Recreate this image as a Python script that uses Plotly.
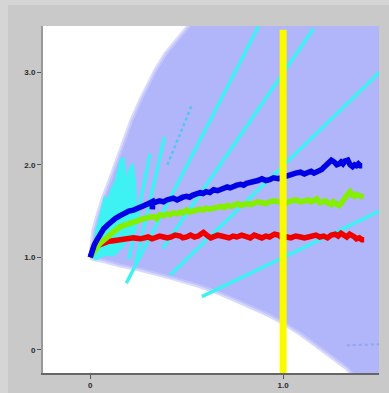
import plotly.graph_objects as go

# ---- data ----
region_upper_x = [0.0, 0.004, 0.009, 0.016, 0.03, 0.045, 0.067, 0.095, 0.125, 0.155,
                  0.18, 0.213, 0.26, 0.295, 0.337, 0.39, 0.45, 0.505, 0.56]
region_upper_y = [1.0, 1.1, 1.2, 1.29, 1.4, 1.5, 1.65, 1.8, 1.98, 2.16,
                  2.3, 2.48, 2.7, 2.85, 3.02, 3.2, 3.35, 3.49, 3.6]
region_lower_x = [0.0, 0.07, 0.155, 0.25, 0.415, 0.55, 0.67, 0.76, 0.85, 0.93, 1.0,
                  1.09, 1.175, 1.23, 1.28, 1.33, 1.37]
region_lower_y = [0.99, 0.96, 0.91, 0.87, 0.78, 0.70, 0.61, 0.53, 0.45, 0.37, 0.29,
                  0.17, 0.04, -0.04, -0.12, -0.20, -0.30]

cluster_x = [0.009, 0.026, 0.052, 0.073, 0.090, 0.107, 0.130, 0.155, 0.173, 0.187,
             0.207, 0.221, 0.233, 0.242, 0.216, 0.173, 0.121, 0.069, 0.026]
cluster_y = [0.99, 1.26, 1.47, 1.65, 1.62, 1.73, 1.82, 2.05, 2.08, 1.83,
             1.98, 2.01, 1.83, 1.47, 1.26, 1.12, 1.02, 1.02, 0.97]

# straight cyan segments: (x0, y0, x1, y1)
seg_x0 = [0.187, 0.377, 0.415, 0.579, 0.20, 0.235]
seg_y0 = [0.72, 1.097, 0.81, 0.575, 0.98, 0.93]
seg_x1 = [0.872, 1.157, 1.50, 1.50, 0.31, 0.385]
seg_y1 = [3.495, 3.47, 3.0, 1.50, 2.12, 2.30]

dot_x = [0.40, 0.53]
dot_y = [2.00, 2.66]

faint_x = [1.33, 1.50]
faint_y = [0.05, 0.06]

blue_x = [0, 0.01, 0.02, 0.035, 0.05, 0.07, 0.09, 0.11, 0.13, 0.155, 0.18, 0.20, 0.224,
          0.25, 0.28, 0.30, 0.32, 0.322, 0.325, 0.33, 0.36, 0.38, 0.397, 0.415, 0.43,
          0.45, 0.466, 0.48, 0.50, 0.515, 0.53, 0.55, 0.57, 0.585, 0.60, 0.62, 0.64,
          0.66, 0.68, 0.695, 0.71, 0.725, 0.742, 0.76, 0.78, 0.795, 0.81, 0.83, 0.85,
          0.87, 0.89, 0.91, 0.93, 0.95, 0.976, 1.0, 1.02, 1.045, 1.065, 1.09, 1.11,
          1.131, 1.145, 1.16, 1.175, 1.19, 1.20, 1.21, 1.222, 1.235, 1.25, 1.265,
          1.278, 1.29, 1.30, 1.31, 1.32, 1.335, 1.347, 1.36, 1.37, 1.38, 1.39, 1.40, 1.41]
blue_y = [1.0, 1.08, 1.13, 1.19, 1.25, 1.31, 1.35, 1.39, 1.42, 1.45, 1.48, 1.50, 1.51,
          1.54, 1.56, 1.58, 1.60, 1.52, 1.60, 1.59, 1.61, 1.60, 1.62, 1.63, 1.64,
          1.62, 1.64, 1.65, 1.66, 1.65, 1.67, 1.69, 1.70, 1.69, 1.71, 1.70, 1.73,
          1.72, 1.74, 1.75, 1.76, 1.75, 1.77, 1.78, 1.79, 1.78, 1.80, 1.81, 1.81,
          1.83, 1.85, 1.83, 1.84, 1.86, 1.85, 1.87, 1.88, 1.90, 1.91, 1.92, 1.90,
          1.92, 1.93, 1.91, 1.92, 1.93, 1.95, 1.97, 2.00, 2.02, 2.05, 2.03,
          2.00, 2.01, 2.03, 2.01, 2.04, 2.05, 2.00, 1.98, 2.00, 1.99, 2.01, 1.99, 1.99]

green_x = [0, 0.01, 0.02, 0.035, 0.05, 0.07, 0.086, 0.11, 0.13, 0.155, 0.18, 0.20, 0.224,
           0.25, 0.28, 0.30, 0.33, 0.345, 0.36, 0.38, 0.40, 0.415, 0.43, 0.45, 0.466,
           0.48, 0.50, 0.515, 0.53, 0.55, 0.57, 0.585, 0.60, 0.62, 0.64, 0.66, 0.68,
           0.695, 0.71, 0.73, 0.75, 0.765, 0.78, 0.795, 0.81, 0.83, 0.85, 0.87, 0.89,
           0.91, 0.93, 0.95, 0.976, 1.0, 1.02, 1.04, 1.065, 1.09, 1.11, 1.131, 1.145,
           1.16, 1.175, 1.19, 1.205, 1.22, 1.235, 1.25, 1.26, 1.275, 1.29, 1.30, 1.31,
           1.32, 1.335, 1.347, 1.36, 1.37, 1.38, 1.39, 1.40, 1.416]
green_y = [1.0, 1.04, 1.07, 1.11, 1.15, 1.19, 1.22, 1.26, 1.29, 1.33, 1.35, 1.37, 1.38,
           1.40, 1.42, 1.43, 1.44, 1.42, 1.46, 1.45, 1.47, 1.46, 1.48, 1.47, 1.49,
           1.48, 1.51, 1.49, 1.50, 1.52, 1.52, 1.51, 1.53, 1.52, 1.53, 1.55, 1.55,
           1.54, 1.56, 1.55, 1.57, 1.58, 1.56, 1.57, 1.58, 1.57, 1.58, 1.60, 1.59,
           1.58, 1.60, 1.61, 1.60, 1.60, 1.59, 1.61, 1.62, 1.60, 1.61, 1.62, 1.60,
           1.61, 1.63, 1.59, 1.60, 1.61, 1.58, 1.57, 1.60, 1.58, 1.56, 1.58, 1.60,
           1.64, 1.68, 1.71, 1.67, 1.66, 1.68, 1.67, 1.66, 1.65]

red_x = [0, 0.005, 0.017, 0.03, 0.05, 0.069, 0.09, 0.12, 0.155, 0.19, 0.224, 0.26, 0.30,
         0.32, 0.34, 0.36, 0.38, 0.40, 0.42, 0.44, 0.466, 0.48, 0.50, 0.52, 0.54, 0.56,
         0.587, 0.60, 0.61, 0.625, 0.64, 0.66, 0.68, 0.70, 0.72, 0.74, 0.76, 0.785, 0.81,
         0.83, 0.85, 0.87, 0.89, 0.91, 0.93, 0.955, 0.976, 1.0, 1.02, 1.04, 1.065, 1.09,
         1.11, 1.131, 1.15, 1.17, 1.19, 1.21, 1.23, 1.25, 1.27, 1.285, 1.30, 1.315,
         1.33, 1.345, 1.36, 1.37, 1.38, 1.395, 1.408, 1.42]
red_y = [1.0, 1.05, 1.10, 1.12, 1.14, 1.15, 1.17, 1.18, 1.19, 1.20, 1.21, 1.20, 1.22,
         1.20, 1.21, 1.23, 1.22, 1.21, 1.22, 1.24, 1.23, 1.21, 1.22, 1.24, 1.22, 1.23,
         1.27, 1.24, 1.23, 1.21, 1.22, 1.24, 1.23, 1.22, 1.21, 1.23, 1.22, 1.24, 1.22,
         1.21, 1.24, 1.22, 1.21, 1.23, 1.22, 1.25, 1.24, 1.20, 1.22, 1.21, 1.23, 1.22,
         1.21, 1.22, 1.23, 1.24, 1.22, 1.23, 1.21, 1.24, 1.25, 1.23, 1.26, 1.24,
         1.22, 1.25, 1.24, 1.22, 1.20, 1.21, 1.19, 1.19]

marker_x = [1.0, 1.0]
marker_y = [-0.25, 3.46]

x_tickvals = [0, 1.0]
x_ticktext = ["0", "1.0"]
y_tickvals = [0, 1.0, 2.0, 3.0]
y_ticktext = ["0", "1.0", "2.0", "3.0"]

# ---- figure ----
LAV = "#b1b5f9"
CYAN = "#3ef2f4"

fig = go.Figure()

poly_x = region_upper_x + [1.6, 1.6] + region_lower_x[::-1]
poly_y = region_upper_y + [3.6, -0.3] + region_lower_y[::-1]
fig.add_trace(go.Scatter(x=poly_x, y=poly_y, fill="toself", fillcolor=LAV, mode="lines",
                         line=dict(color="rgba(200,203,252,0.7)", width=4),
                         hoverinfo="skip"))

fig.add_trace(go.Scatter(x=faint_x, y=faint_y, mode="lines",
                         line=dict(color="#8fa6f2", width=2, dash="dot")))

fig.add_trace(go.Scatter(x=cluster_x, y=cluster_y, fill="toself", fillcolor=CYAN,
                         mode="lines", line=dict(color=CYAN, width=1.5)))

for x0, y0, x1, y1 in zip(seg_x0, seg_y0, seg_x1, seg_y1):
    fig.add_trace(go.Scatter(x=[x0, x1], y=[y0, y1], mode="lines",
                             line=dict(color=CYAN, width=3.5)))

fig.add_trace(go.Scatter(x=dot_x, y=dot_y, mode="lines",
                         line=dict(color="#4fc8f0", width=2.5, dash="dot")))

for xs, ys, col in [(red_x, red_y, "#ee0000"), (green_x, green_y, "#84ef00"),
                    (blue_x, blue_y, "#0000e6")]:
    fig.add_trace(go.Scatter(x=xs, y=ys, mode="lines", line=dict(color=col, width=5.5)))

fig.add_trace(go.Scatter(x=marker_x, y=marker_y, mode="lines",
                         line=dict(color="#fbfb00", width=7)))

tf = dict(family="Liberation Sans", size=8, color="#2a2a2a", weight="bold")
fig.update_layout(
    width=381, height=388,
    margin=dict(l=35, r=10, t=21, b=20),
    paper_bgcolor="#c9c9c9", plot_bgcolor="white",
    showlegend=False,
    font=dict(family="Liberation Sans", size=8, color="#333333"),
)
fig.update_xaxes(range=[-0.245, 1.497], tickvals=x_tickvals, ticktext=x_ticktext,
                 showgrid=False, zeroline=False, ticks="outside", ticklen=4,
                 tickcolor="#555", showline=True, linecolor="#666", linewidth=1.5,
                 tickfont=tf, automargin=False)
fig.update_yaxes(range=[-0.25, 3.5], tickvals=y_tickvals, ticktext=y_ticktext,
                 showgrid=False, zeroline=False, ticks="outside", ticklen=4,
                 tickcolor="#555", showline=True, linecolor="#999", linewidth=2,
                 tickfont=tf, automargin=False)

fig.write_html(
    "out.html",
    post_script="document.body.style.background='#d5d5d5';"
                "document.body.style.margin='5px 0 0 8px';",
)
